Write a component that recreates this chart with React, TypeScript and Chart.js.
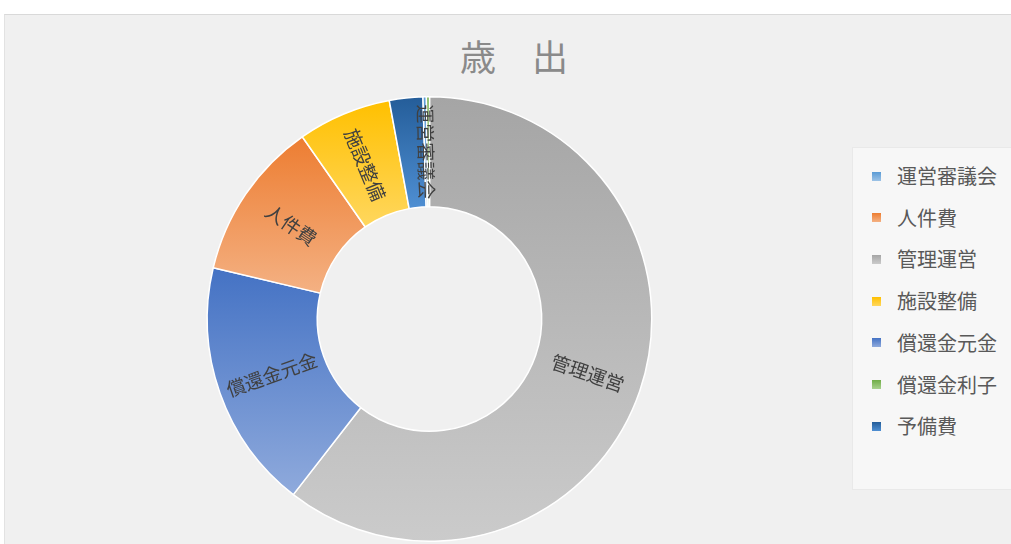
import React, { useEffect, useRef } from "react";
import { Chart, registerables } from "chart.js";

Chart.register(...registerables);

// Legend order (as in the reference legend)
const categories = ["運営審議会", "人件費", "管理運営", "施設整備", "償還金元金", "償還金利子", "予備費"];
// Share of expenditure (%)
const values = [0.25, 11.6, 60.5, 6.8, 18.2, 0.22, 2.43];
// Clockwise order of the slices starting at 12 o'clock
const drawOrder = [2, 4, 1, 3, 6, 0, 5];
// Slices that carry a category label
const labelled = ["運営審議会", "人件費", "管理運営", "施設整備", "償還金元金"];
// Gradient colours (top -> bottom) per category
const colorTop = ["#5B9BD5", "#ED7D31", "#A5A5A5", "#FFC000", "#4472C4", "#70AD47", "#245D99"];
const colorBottom = ["#9DC3E6", "#F4B183", "#CBCBCB", "#FFD75E", "#8FAADC", "#A9D18E", "#4F8FD3"];

const title = "歳　出";

const FONT = '"Noto Sans CJK JP", "Noto Sans", sans-serif';

function arcYRange(x: number, y: number, sa: number, ea: number, ir: number, or: number) {
  const ys: number[] = [];
  for (const r of [ir, or]) {
    ys.push(y + r * Math.sin(sa));
    ys.push(y + r * Math.sin(ea));
  }
  const norm = (a: number) => ((a % (2 * Math.PI)) + 2 * Math.PI) % (2 * Math.PI);
  for (const c of [Math.PI / 2, (3 * Math.PI) / 2]) {
    const k = norm(c - sa);
    if (k <= ea - sa) ys.push(y + or * Math.sin(c));
  }
  return [Math.min(...ys), Math.max(...ys)];
}

const gradientPlugin = {
  id: "sliceGradient",
  beforeDatasetsDraw(chart: any) {
    const ctx = chart.ctx;
    const meta = chart.getDatasetMeta(0);
    meta.data.forEach((arc: any, i: number) => {
      const p = arc.getProps(["x", "y", "startAngle", "endAngle", "innerRadius", "outerRadius"]);
      const [y0, y1] = arcYRange(p.x, p.y, p.startAngle, p.endAngle, p.innerRadius, p.outerRadius);
      const ci = drawOrder[i];
      const g = ctx.createLinearGradient(0, y0, 0, Math.max(y1, y0 + 1));
      g.addColorStop(0, colorTop[ci]);
      g.addColorStop(1, colorBottom[ci]);
      arc.options = Object.assign({}, arc.options, { backgroundColor: g });
    });
  },
};

const labelPlugin = {
  id: "sliceLabels",
  afterDatasetsDraw(chart: any) {
    const ctx = chart.ctx;
    const meta = chart.getDatasetMeta(0);
    const labels = chart.data.labels as string[];
    meta.data.forEach((arc: any, i: number) => {
      const name = labels[i];
      if (!labelled.includes(name)) return;
      const p = arc.getProps(["x", "y", "startAngle", "endAngle", "innerRadius", "outerRadius"]);
      const a = (p.startAngle + p.endAngle) / 2;
      const r = (p.innerRadius + p.outerRadius) / 2;
      const x = p.x + r * Math.cos(a);
      const y = p.y + r * Math.sin(a);
      const rot = Math.cos(a) >= 0 ? a : a - Math.PI;
      ctx.save();
      ctx.translate(x, y);
      ctx.rotate(rot);
      ctx.font = `19px ${FONT}`;
      ctx.fillStyle = "#404040";
      ctx.textAlign = "center";
      ctx.textBaseline = "middle";
      ctx.fillText(name, 0, 0);
      ctx.restore();
    });
  },
};

export default function App() {
  const ref = useRef<HTMLCanvasElement | null>(null);

  useEffect(() => {
    document.body.style.margin = "0";
    const canvas = ref.current;
    if (!canvas) return;
    const chart = new Chart(canvas, {
      type: "doughnut",
      data: {
        labels: drawOrder.map((i) => categories[i]),
        datasets: [
          {
            data: drawOrder.map((i) => values[i]),
            backgroundColor: drawOrder.map((i) => colorTop[i]),
            borderColor: "#FFFFFF",
            borderWidth: 1.5,
          },
        ],
      },
      options: {
        animation: false,
        responsive: false,
        devicePixelRatio: 1,
        cutout: "50.5%",
        layout: { padding: { left: 206.5, right: 358.5, top: 96, bottom: 2 } },
        plugins: {
          legend: { display: false },
          title: { display: false },
          tooltip: { enabled: false },
        },
      },
      plugins: [gradientPlugin, labelPlugin],
    });
    return () => chart.destroy();
  }, []);

  return (
    <div
      style={{
        position: "absolute",
        left: 0,
        top: 0,
        width: 1011,
        height: 544,
        overflow: "hidden",
        background: "#FFFFFF",
        fontFamily: FONT,
      }}
    >
      <div
        style={{
          position: "absolute",
          left: 4,
          top: 14,
          width: 1010,
          height: 540,
          background: "#F0F0F0",
          borderTop: "1px solid #D9D9D9",
          borderLeft: "1px solid #E2E2E2",
          boxSizing: "border-box",
        }}
      />
      <div
        style={{
          position: "absolute",
          left: 414,
          width: 200,
          top: 37,
          textAlign: "center",
          fontSize: 36,
          lineHeight: "36px",
          color: "#8A8A8A",
          whiteSpace: "pre",
        }}
      >
        {title}
      </div>
      <div
        style={{
          position: "absolute",
          left: 852,
          top: 147,
          width: 200,
          height: 343,
          background: "#F7F7F7",
          border: "1px solid #E9E9E9",
          boxSizing: "border-box",
        }}
      >
        {categories.map((c, i) => (
          <div
            key={c}
            style={{
              position: "absolute",
              left: 19,
              top: 14 + i * 41.7,
              height: 28,
              display: "flex",
              alignItems: "center",
              whiteSpace: "nowrap",
            }}
          >
            <span
              style={{
                display: "inline-block",
                width: 9,
                height: 9,
                background: `linear-gradient(${colorTop[i]}, ${colorBottom[i]})`,
                marginRight: 16,
              }}
            />
            <span style={{ fontSize: 20, lineHeight: "28px", color: "#595959" }}>{c}</span>
          </div>
        ))}
      </div>
      <canvas
        ref={ref}
        width={1011}
        height={544}
        style={{ position: "absolute", left: 0, top: 0, width: 1011, height: 544 }}
      />
    </div>
  );
}
